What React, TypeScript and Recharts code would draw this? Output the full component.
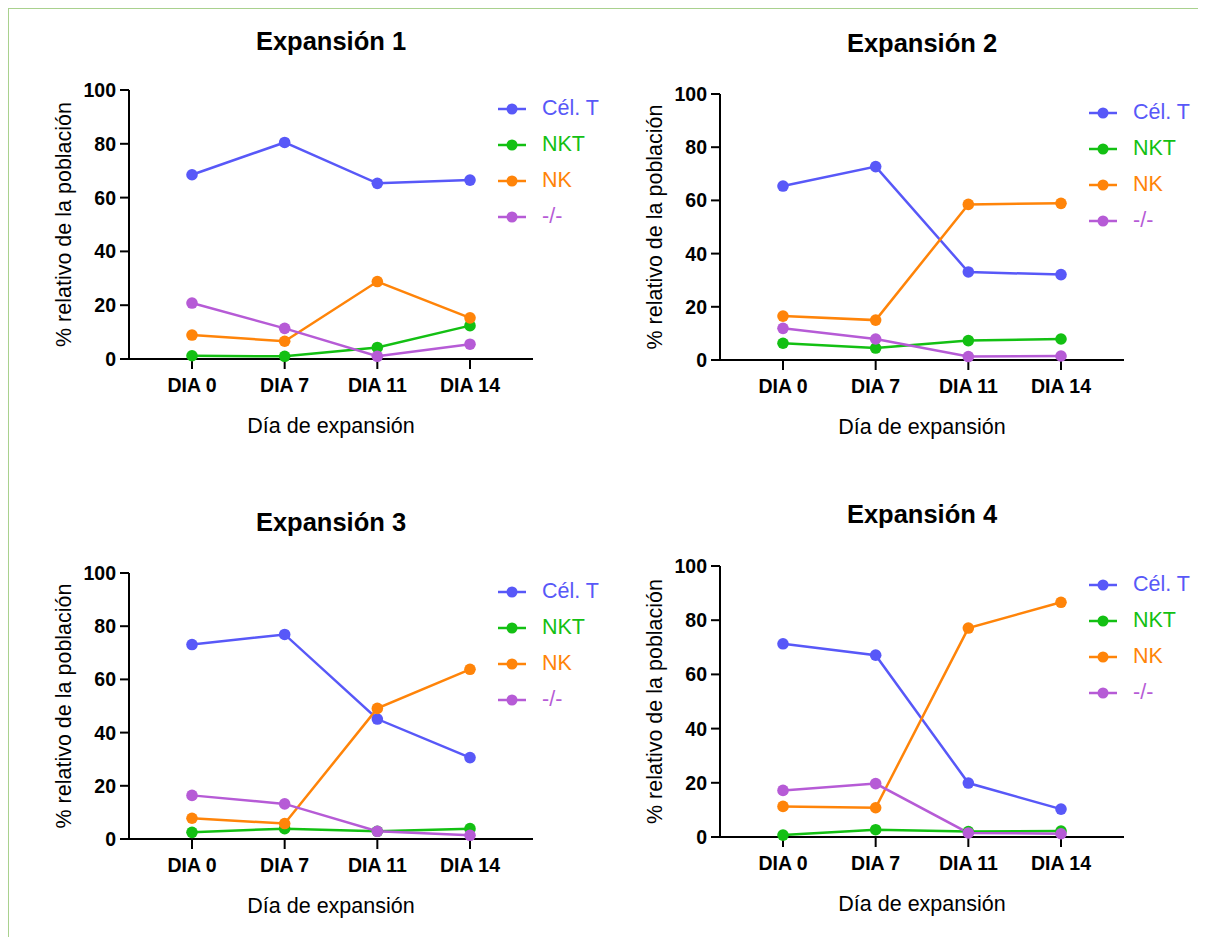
import { LineChart, Line, XAxis, YAxis, Legend } from "recharts";

const days = ["DIA 0", "DIA 7", "DIA 11", "DIA 14"];
const yTicks = [0, 20, 40, 60, 80, 100];

const seriesNames = ["Cél. T", "NKT", "NK", "-/-"];
const seriesColors = ["#5858F8", "#13C013", "#FF8409", "#B65BD6"];

// Expansión 1
const celT1 = [68.5, 80.5, 65.3, 66.5];
const nkt1 = [1.2, 1.0, 4.3, 12.4];
const nk1 = [8.9, 6.6, 28.8, 15.3];
const neg1 = [20.8, 11.4, 1.0, 5.5];

// Expansión 2
const celT2 = [65.4, 72.7, 33.1, 32.1];
const nkt2 = [6.3, 4.5, 7.3, 7.9];
const nk2 = [16.5, 15.0, 58.5, 58.9];
const neg2 = [11.9, 7.9, 1.3, 1.5];

// Expansión 3
const celT3 = [73.1, 76.9, 45.1, 30.6];
const nkt3 = [2.5, 3.9, 2.9, 3.9];
const nk3 = [7.8, 5.8, 49.1, 63.8];
const neg3 = [16.4, 13.2, 2.9, 1.4];

// Expansión 4
const celT4 = [71.3, 67.1, 19.9, 10.3];
const nkt4 = [0.7, 2.7, 2.0, 2.2];
const nk4 = [11.3, 10.8, 77.1, 86.6];
const neg4 = [17.2, 19.7, 1.5, 1.2];

const FONT = '"Liberation Sans", Arial, sans-serif';

// plot-area placement of each panel on the page
const panels = [
  { title: "Expansión 1", series: [celT1, nkt1, nk1, neg1], plotLeft: 129, plotTop: 90, plotH: 269, titleBase: 50.7 },
  { title: "Expansión 2", series: [celT2, nkt2, nk2, neg2], plotLeft: 720, plotTop: 94, plotH: 266, titleBase: 52.7 },
  { title: "Expansión 3", series: [celT3, nkt3, nk3, neg3], plotLeft: 129, plotTop: 573, plotH: 266, titleBase: 531.7 },
  { title: "Expansión 4", series: [celT4, nkt4, nk4, neg4], plotLeft: 720, plotTop: 566, plotH: 271, titleBase: 523.7 },
];

const BOX_W = 620;
const BOX_H = 460;
const Y_AXIS_W = 80;
const X_AXIS_H = 80;
const PLOT_W = 404;
const FRAME = "#A9D18E";

function LegendRows({ payload }: any) {
  const items = [...(payload || [])].sort(
    (a: any, b: any) => seriesNames.indexOf(a.value) - seriesNames.indexOf(b.value)
  );
  return (
    <div style={{ fontFamily: FONT }}>
      {items.map((p: any) => (
        <div key={p.value} style={{ display: "flex", alignItems: "center", height: 36 }}>
          <svg width={28} height={14}>
            <line x1={0} x2={28} y1={7} y2={7} stroke={p.color} strokeWidth={2.5} />
            <circle cx={14} cy={7} r={5.5} fill={p.color} />
          </svg>
          <span style={{ marginLeft: 16, fontSize: 21.5, lineHeight: 1, color: p.color }}>{p.value}</span>
        </div>
      ))}
    </div>
  );
}

function Panel({ panel }: { panel: (typeof panels)[number] }) {
  const boxLeft = panel.plotLeft - 129;
  const boxTop = panel.plotTop - 90;
  const data = days.map((d, i) => {
    const row: Record<string, string | number> = { day: d };
    panel.series.forEach((s, k) => (row["s" + k] = s[i]));
    return row;
  });
  const tickStyle = { fontSize: 19.5, fontWeight: 700, fill: "#000", fontFamily: FONT };

  return (
    <>
      <div
        style={{
          position: "absolute",
          left: panel.plotLeft,
          width: PLOT_W,
          top: panel.titleBase - 21.6,
          textAlign: "center",
          fontSize: 25.5,
          lineHeight: 1,
          fontWeight: 700,
          fontFamily: FONT,
          color: "#000",
          whiteSpace: "nowrap",
        }}
      >
        {panel.title}
      </div>
      <div style={{ position: "absolute", left: boxLeft, top: boxTop }}>
        <LineChart
          width={BOX_W}
          height={BOX_H}
          data={data}
          margin={{ top: 90, right: BOX_W - 129 - PLOT_W, left: 129 - Y_AXIS_W, bottom: BOX_H - 90 - panel.plotH - X_AXIS_H }}
        >
          <XAxis
            dataKey="day"
            interval={0}
            padding={{ left: 63, right: 63 }}
            height={X_AXIS_H}
            tickSize={10}
            tickMargin={9}
            tick={tickStyle}
            axisLine={{ stroke: "#000", strokeWidth: 2 }}
            tickLine={{ stroke: "#000", strokeWidth: 2 }}
            label={{
              value: "Día de expansión",
              position: "insideBottom",
              offset: 6,
              style: { fontSize: 21.5, fill: "#000", fontFamily: FONT },
            }}
          />
          <YAxis
            domain={[0, 100]}
            ticks={yTicks}
            width={Y_AXIS_W}
            tickSize={9}
            tickMargin={4}
            tick={tickStyle}
            axisLine={{ stroke: "#000", strokeWidth: 2 }}
            tickLine={{ stroke: "#000", strokeWidth: 2 }}
            label={{
              value: "% relativo de la población",
              angle: -90,
              position: "insideLeft",
              offset: 14,
              style: { fontSize: 21.5, fill: "#000", fontFamily: FONT, textAnchor: "middle" },
            }}
          />
          <Legend
            layout="vertical"
            align="center"
            verticalAlign="middle"
            content={LegendRows}
            wrapperStyle={{ left: 498, top: 91, width: 120 }}
          />
          {seriesNames.map((name, k) => (
            <Line
              key={name}
              dataKey={"s" + k}
              name={name}
              stroke={seriesColors[k]}
              strokeWidth={2.5}
              dot={{ r: 5.8, fill: seriesColors[k], stroke: "none" }}
              activeDot={false}
              isAnimationActive={false}
            />
          ))}
        </LineChart>
      </div>
    </>
  );
}

export default function App() {
  return (
    <div style={{ position: "relative", width: 1206, height: 945, margin: -8, overflow: "hidden", background: "#fff" }}>
      {panels.map((p) => (
        <Panel key={p.title} panel={p} />
      ))}
      <div style={{ position: "absolute", left: 6, top: 6, width: 1200, height: 3, background: FRAME }} />
      <div style={{ position: "absolute", left: 6, top: 6, width: 3, height: 939, background: FRAME }} />
    </div>
  );
}
